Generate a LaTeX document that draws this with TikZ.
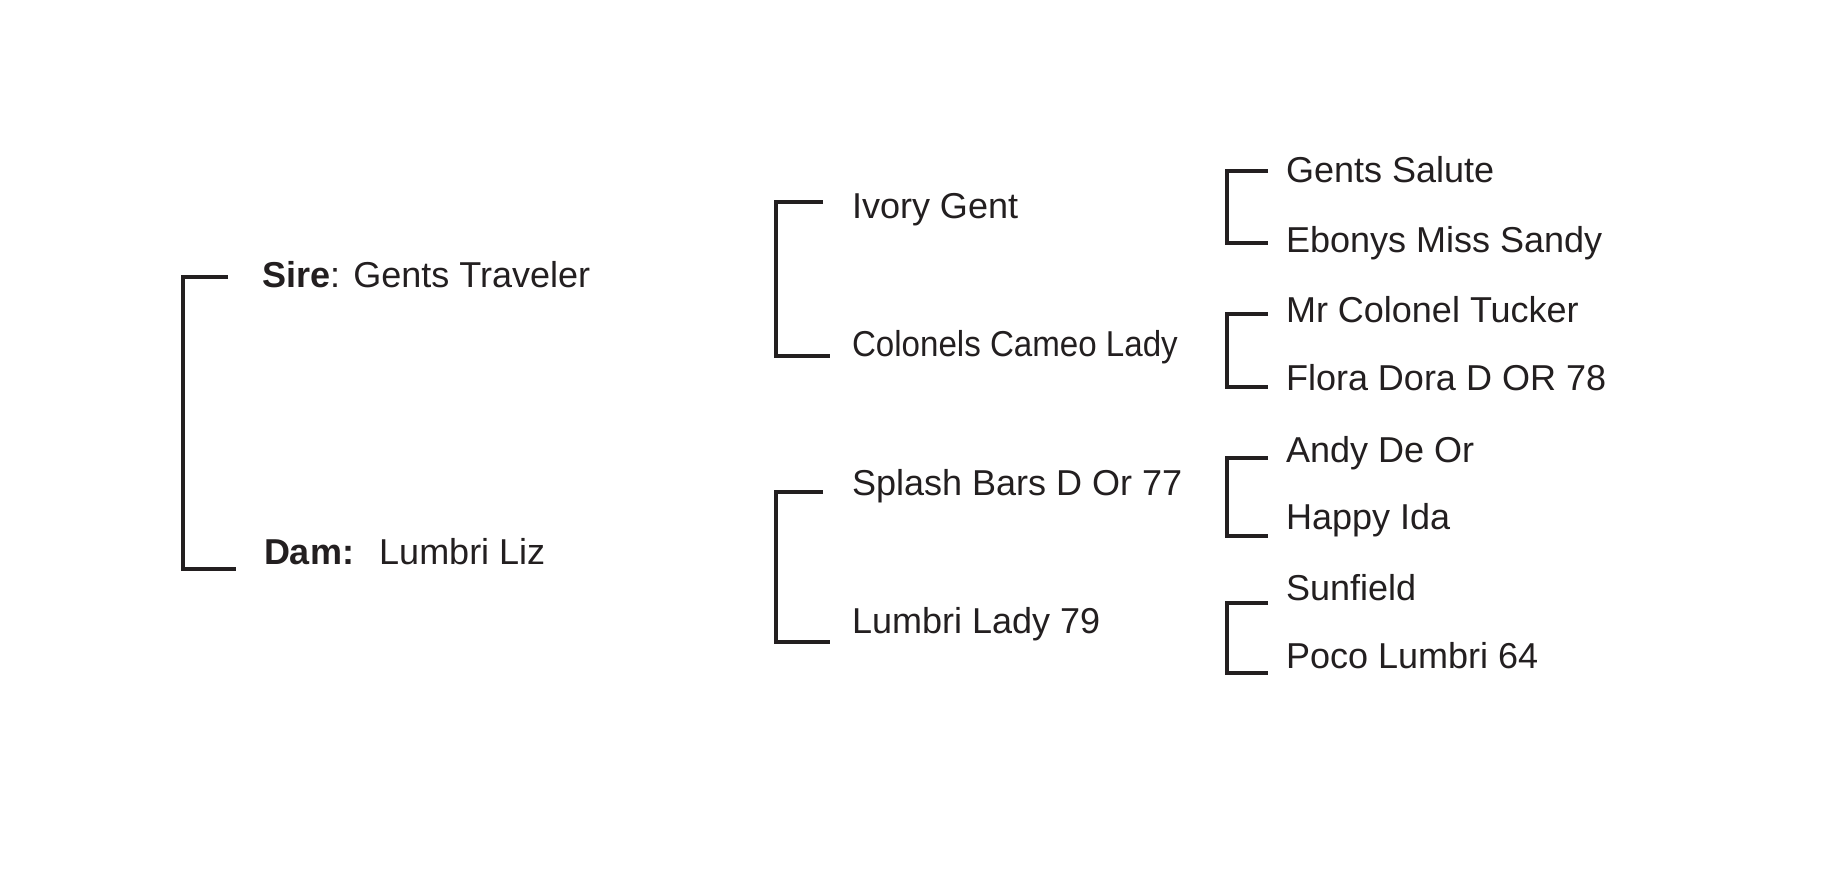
\documentclass[tikz,border=0pt]{standalone}
\usepackage{fontspec}
\setmainfont{Liberation Sans}
\usepackage{graphicx}
\definecolor{ink}{HTML}{231F20}
\begin{document}
\begin{tikzpicture}[x=1pt,y=-1pt,
  lbl/.style={anchor=base west,inner sep=0pt,outer sep=0pt,text=ink,font=\fontsize{36}{41}\selectfont},
  brk/.style={draw=ink,line width=3.2pt}]
\useasboundingbox (0,0) rectangle (1822,886);
% generation 1
\node[lbl] (sire) at (262,287) {\textbf{Sire}: Gents Traveler};
\node[lbl] (dam) at (264,564) {\textbf{Dam:}\hspace{0.7em}Lumbri Liz};
% generation 2
\node[lbl] (ivory) at (852,218) {Ivory Gent};
\node[lbl] (colonels) at (852,356) {\scalebox{0.92}[1]{Colonels Cameo Lady}};
\node[lbl] (splash) at (852,495) {Splash Bars D Or 77};
\node[lbl] (lady) at (852,633) {Lumbri Lady 79};
% generation 3
\node[lbl] (gs) at (1286,182) {Gents Salute};
\node[lbl] (ebony) at (1286,252) {Ebonys Miss Sandy};
\node[lbl] (mr) at (1286,322) {Mr Colonel Tucker};
\node[lbl] (flora) at (1286,390) {Flora Dora D OR 78};
\node[lbl] (andy) at (1286,462) {Andy De Or};
\node[lbl] (happy) at (1286,529) {Happy Ida};
\node[lbl] (sun) at (1286,600) {Sunfield};
\node[lbl] (poco) at (1286,668) {Poco Lumbri 64};
% bracket ends
\coordinate (b1t) at (228,277); \coordinate (b1b) at (236,569);
\coordinate (b2t) at (823,202); \coordinate (b2b) at (830,356);
\coordinate (b3t) at (823,492); \coordinate (b3b) at (830,642);
\coordinate (b4t) at (1268,171); \coordinate (b4b) at (1268,243);
\coordinate (b5t) at (1268,314); \coordinate (b5b) at (1268,387);
\coordinate (b6t) at (1268,458); \coordinate (b6b) at (1268,536);
\coordinate (b7t) at (1268,603); \coordinate (b7b) at (1268,673);
% brackets
\draw[brk] (b1t) -- (183,277) -- (183,569) -- (b1b);
\draw[brk] (b2t) -- (776,202) -- (776,356) -- (b2b);
\draw[brk] (b3t) -- (776,492) -- (776,642) -- (b3b);
\draw[brk] (b4t) -- (1227,171) -- (1227,243) -- (b4b);
\draw[brk] (b5t) -- (1227,314) -- (1227,387) -- (b5b);
\draw[brk] (b6t) -- (1227,458) -- (1227,536) -- (b6b);
\draw[brk] (b7t) -- (1227,603) -- (1227,673) -- (b7b);
\end{tikzpicture}
\end{document}
